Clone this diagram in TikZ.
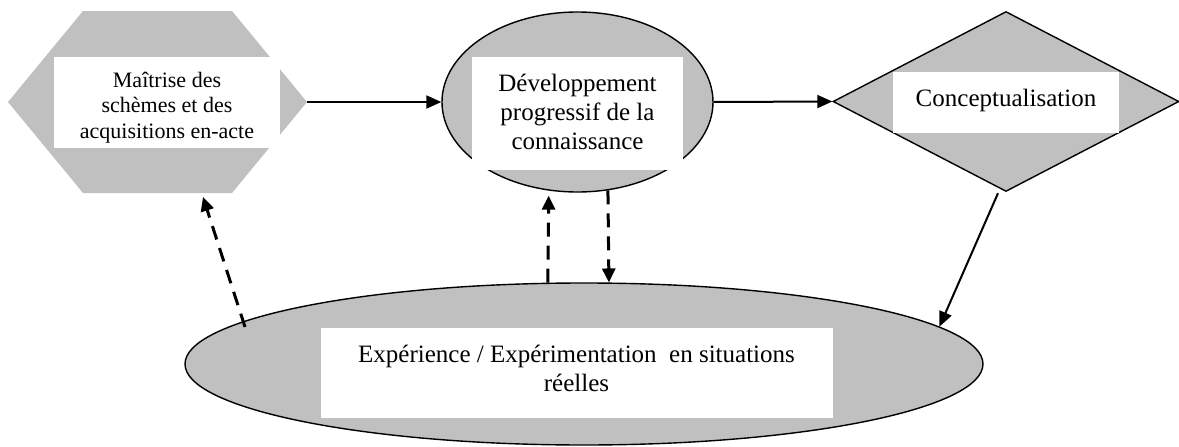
\documentclass[tikz,border=0pt]{standalone}
\usepackage{fontspec}
\setmainfont{Liberation Serif}
\usetikzlibrary{arrows.meta,shapes.geometric,calc}
\definecolor{shapegray}{HTML}{C0C0C0}
\begin{document}
\begin{tikzpicture}[x=1pt,y=-1pt,
  outlined/.style={fill=shapegray,draw=black,line width=1.4pt,inner sep=0pt},
  whitebox/.style={fill=white,draw=none,inner sep=0pt},
  label25/.style={align=center,inner sep=0pt,font=\fontsize{25}{29}\selectfont},
  solidarrow/.style={line width=2pt,-{Triangle[length=15pt,width=13pt]}},
  dasharrow/.style={line width=3pt,dash pattern=on 14pt off 9pt,-{Triangle[length=14pt,width=13pt]}},
]
\useasboundingbox (0,0) rectangle (1179,447);

% hexagon
\coordinate (hexl) at (8,102);
\coordinate (hexr) at (307,102);
\coordinate (hexb) at (203,197);
\fill[shapegray] (hexl) -- (83,11) -- (232,11) -- (hexr) -- (232,193) -- (83,193) -- cycle;
\node[whitebox,minimum width=226pt,minimum height=91pt] (hext) at (167,102.5) {};
\node[align=center,inner sep=0pt,font=\fontsize{22}{25.5}\selectfont] (hexlab) at ($(hext.center)+(0,5)$)
  {Maîtrise des\\schèmes et des\\acquisitions en-acte};

% ellipse: developpement
\node[outlined,ellipse,minimum width=271pt,minimum height=180pt] (dev) at (577.5,102) {};
\node[whitebox,minimum width=211pt,minimum height=113pt] (devt) at (577.5,113.5) {};
\node[label25] (devlab) at ($(devt.center)+(0,-2)$)
  {Développement\\progressif de la\\connaissance};

% diamond
\node[outlined,diamond,minimum width=346pt,minimum height=180pt] (dia) at (1006,101.5) {};
\node[whitebox,minimum width=226pt,minimum height=61pt] (diat) at (1006,102.5) {};
\node[label25] (dialab) at ($(diat.center)+(0,-2)$) {Conceptualisation};

% bottom ellipse
\node[outlined,ellipse,minimum width=798pt,minimum height=162pt] (exp) at (584,364) {};
\node[whitebox,minimum width=512pt,minimum height=90pt] (expt) at (577,373) {};
\node[label25] (explab) at (576.5,368)
  {Expérience / Expérimentation\ \ en situations\\réelles};

% connectors
\draw[solidarrow] (hexr) -- (dev.west);
\draw[solidarrow] (dev.east) -- (dia.west);
\draw[solidarrow] ($(dia.south)+(-8,1)$) -- (exp.6.4);

\coordinate (s1) at (245,327);
\draw[dasharrow] (s1) -- (hexb);
\draw[dasharrow] (exp.114.8) -- ($(dev.-108.8)+(0,5)$);
\draw[dasharrow] (dev.-71.2) -- (exp.73.96);
\end{tikzpicture}
\end{document}
